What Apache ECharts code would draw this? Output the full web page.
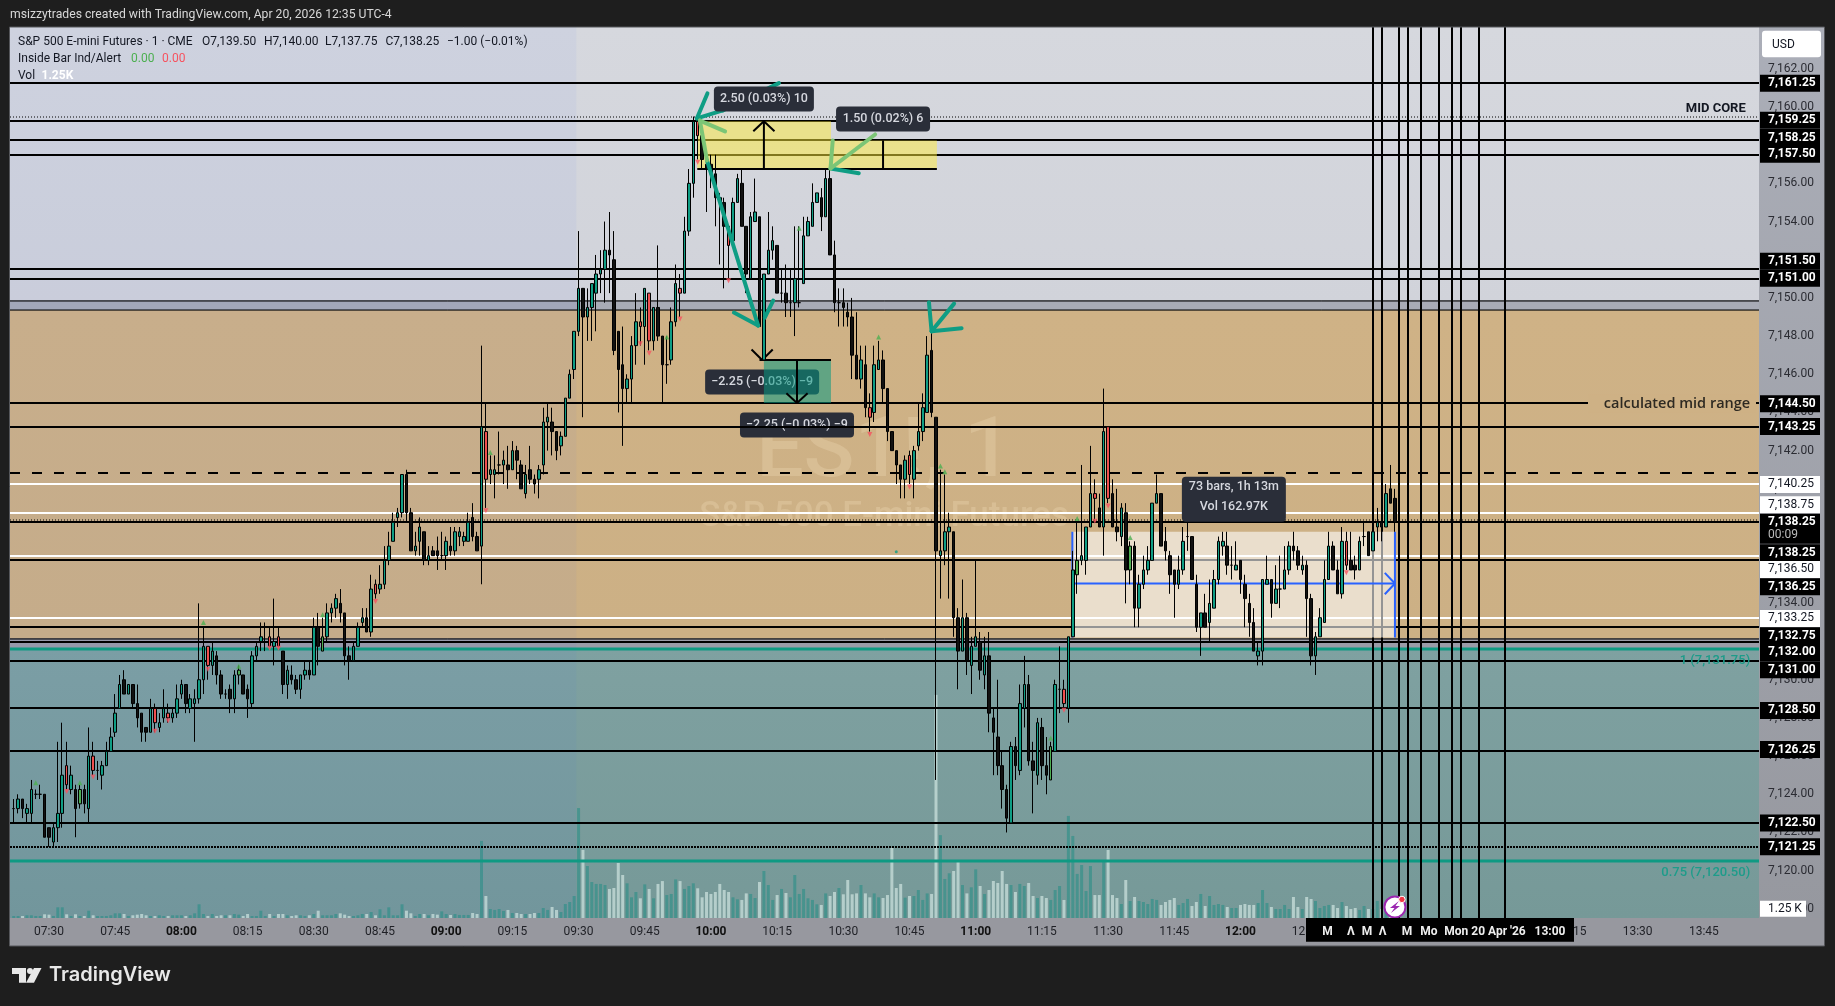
<!DOCTYPE html>
<html><head><meta charset="utf-8">
<style>html,body{margin:0;padding:0;background:#1e1e1e}#c{width:1835px;height:1006px}</style>
<script src="https://cdn.jsdelivr.net/npm/echarts@6/dist/echarts.min.js"></script>
</head><body><div id="c"></div>
<script>
// ---- price bars, [open, close, low, high], one bar per minute
const bars0730=[[7123.25,7123.25,7122.5,7123.75],[7123.25,7123.75,7123,7124],[7123.75,7123.25,7122.75,7123.75],[7123,7123.25,7122.5,7123.5],[7123,7124.25,7122.5,7124.75],[7124,7124,7123.75,7124.25],[7124,7124,7123.75,7124.5],[7124,7121.75,7121.75,7124],
[7122.25,7121.75,7121.25,7122.25],[7121.5,7122.25,7121.25,7122.5],[7122.25,7123,7121.5,7126.75],[7123,7125,7122.25,7127.75],[7125.5,7124.5,7124.25,7126.75],[7124.25,7125,7124,7125.5],[7124.25,7123.25,7121.75,7124.5],[7123.5,7124.25,7123.25,7124.5],[7124.25,7123.5,7123,7124.5],[7123.25,7126,7122.5,7127.5],
[7126,7125.25,7125,7126.75],[7125.25,7125.25,7124.75,7125.75],[7125,7125.5,7124.25,7125.75],[7125.5,7126.25,7125.5,7126.75],[7126.25,7127,7126.25,7127.5],[7127.25,7128.25,7127,7129.25],[7128.5,7129.75,7128.5,7130.25],[7130,7129.25,7129.25,7130.5],[7129.25,7129.75,7129.25,7129.75],[7129.75,7128.75,7128.5,7129.75],
[7128.75,7128,7127.5,7129.75],[7128.25,7127.25,7126.75,7128.25],[7127.5,7127.25,7126.75,7127.5],[7127.25,7128.5,7127.25,7129],[7128.5,7127.75,7127.25,7128.75],[7127.5,7127.75,7127.25,7128.25],[7128,7128.5,7127.75,7129.5],[7128.25,7128,7127.75,7128.75],[7128,7128.25,7127.75,7128.5],[7128.25,7129,7128,7129.75]];
const bars0800=[[7129.25,7129.75,7129,7130],[7129.75,7128.75,7128.25,7129.75],[7128.5,7129,7128.25,7129.25],[7128.75,7129,7126.75,7129.5],[7129,7130,7128.75,7134],[7130,7131.75,7129.25,7132.75],[7131.75,7130.75,7130,7131.75],[7130.75,7131.5,7130.25,7132],[7131.25,7130.25,7129.75,7131.5],[7130.25,7129.25,7129,7130.5],
[7129.25,7129.25,7129,7129.5],[7129.5,7129,7128.25,7129.75],[7129,7130.25,7128.25,7130.5],[7130.25,7130.5,7129.75,7130.75],[7130.25,7129.25,7129.25,7130.25],[7129.5,7129,7128,7129.75],[7128.75,7131.25,7128.5,7131.5],[7131.25,7131.75,7131,7132],[7132,7132.25,7131.5,7133],[7132,7132,7131.5,7133],
[7132.25,7131.75,7131.75,7132.75],[7131.75,7132,7130.75,7134.25],[7132.25,7131.75,7131.75,7132.75],[7131.5,7129.75,7129.25,7131.5],[7129.75,7130.5,7129,7130.75],[7130.25,7130,7129.75,7130.75],[7130,7129.5,7129.25,7130.25],[7129.5,7130.25,7129,7130.25],[7130.25,7130.5,7130,7131],[7130.5,7130.25,7130,7131],
[7130.25,7132.75,7130.25,7133.25],[7132.75,7131.75,7130.75,7133.5],[7131.5,7132.25,7131.5,7133.25],[7132.25,7133.5,7132,7134],[7133.5,7133.75,7133,7134],[7133.75,7134.25,7133.25,7134.5],[7134,7133.5,7133,7134.75],[7133.5,7131.25,7130.75,7133.5],[7131.25,7131,7130,7131.75],[7131,7131.75,7131,7132],
[7131.75,7132.75,7131.75,7133],[7133,7133.25,7132.75,7133.75],[7133.25,7132.5,7132.5,7133.75],[7132.5,7134.75,7132.25,7135.5],[7135,7134.5,7134.25,7135.25],[7134.75,7135,7134.5,7136],[7135,7136.25,7134.75,7137],[7136.25,7137,7136,7137.75],[7137.25,7138.25,7137.25,7138.75],[7138.5,7138.75,7138,7139],
[7138.75,7140.75,7138.5,7140.75],[7140.75,7138.75,7138.25,7141],[7138.75,7136.75,7136.75,7139],[7136.75,7137,7136.5,7137.75],[7137.25,7138,7136.5,7138.5],[7137.75,7136.25,7136,7137.75],[7136.25,7136.5,7136,7137],[7136.75,7136.5,7136.5,7137],[7136.75,7136.5,7135.75,7137.5],[7136.5,7136.5,7136.25,7137.75]];
const bars0900=[[7136.5,7137.25,7135.75,7137.5],[7137,7136.75,7136.5,7138],[7136.75,7137.75,7136.5,7138],[7137.5,7137.75,7137,7138],[7137.25,7137.5,7137,7137.75],[7137.25,7138.25,7137.25,7138.75],[7138.5,7137.5,7137.25,7139.25],[7137.5,7136.75,7136.75,7137.75],[7137,7143.25,7135,7147.5],[7143,7140.5,7139,7144.5],
[7140.75,7141,7140.25,7141.75],[7140.75,7141,7139.5,7141.75],[7141.25,7141.25,7140.75,7143],[7141.25,7141.5,7140.25,7142],[7141.25,7141,7140,7142.25],[7141,7142,7141,7142.5],[7142,7141.5,7140.5,7142.25],[7141.25,7140,7140,7141.5],[7139.75,7140.75,7139.5,7141.25],[7141,7140.5,7140.25,7142.25],
[7140.5,7140.25,7139.75,7140.75],[7140.5,7141,7139.5,7141.25],[7141.25,7143.5,7140.75,7144.25],[7143.5,7143.75,7142,7144.5],[7143.5,7143,7141.75,7144.25],[7143,7142,7141.5,7143],[7142.25,7142.75,7141.75,7143],[7142.75,7144.75,7142.75,7144.75],[7144.75,7146,7144.75,7146.25],[7146.25,7148.25,7145.75,7148.25],
[7148.25,7150.5,7148,7153.5],[7150.5,7149,7143.75,7150.5],[7149,7149.5,7147.75,7150.5],[7149.5,7150.75,7147.75,7150.75],[7150.25,7151.25,7148.25,7152.25],[7151.25,7151.5,7150.25,7152.5],[7151.5,7152.5,7149.75,7154],[7152.5,7152.25,7150.25,7154.5],[7152,7147.25,7147,7153.5],[7148.25,7146.25,7144,7148.25],
[7146.5,7145.25,7142.25,7148.5],[7145.25,7145.75,7144.5,7146],[7145.75,7147.5,7144.5,7148],[7147.5,7148.75,7146.5,7150.25],[7148.75,7148.5,7147.5,7149.5],[7148.5,7150.5,7146.5,7150.5],[7150.25,7147.75,7147.25,7150.25],[7147.75,7149.5,7147.25,7149.5],[7149.5,7148,7147.75,7152.75],[7148,7146.5,7144.5,7148],
[7146.5,7146.5,7145.5,7148],[7146.75,7148.75,7146.5,7149.5],[7148.75,7150.75,7148.5,7151.75],[7150.5,7150.25,7149,7151.25],[7150.25,7153.5,7150.25,7154.25],[7153.5,7156,7153.25,7156.75],[7156,7159.25,7155.25,7159.5],[7159.25,7158.5,7157.25,7159.5],[7158.5,7157.25,7156.75,7159.25],[7157,7156.75,7154.5,7157.5]];
const bars1000=[[7157,7156.5,7155.75,7157.5],[7156.5,7155.25,7153.75,7157.5],[7155.25,7155,7151.75,7155.5],[7155,7153.75,7150.5,7155.25],[7153.75,7152.75,7151,7153.75],[7153,7155,7152.75,7155.25],[7155,7156.25,7155,7156.5],[7156,7153.75,7153.75,7156.75],[7153.75,7151.25,7150.25,7153.75],[7151,7154.25,7151,7154.5],
[7154,7154.5,7154,7156.25],[7154.25,7148.5,7148.5,7154.25],[7146.75,7151.25,7146.75,7151.25],[7151.25,7152.5,7151.25,7154.5],[7152.5,7153,7152,7153.75],[7152.75,7150.25,7150.25,7152.75],[7150.25,7150.25,7149.75,7151.5],[7150.25,7149.75,7149,7151.75],[7149.75,7149.75,7149,7151.5],[7149.75,7151,7148,7153.75],
[7149.75,7149.75,7149.5,7153.75],[7150.75,7153.25,7150.75,7154.25],[7153.25,7154,7153.25,7154.25],[7153.75,7155,7153.75,7156],[7155,7155.5,7155,7155.5],[7155.25,7154.25,7153.5,7155.75],[7154.25,7156.25,7154.25,7156.75],[7156.25,7152.25,7152.25,7156.75],[7152.25,7149.75,7149.25,7153],[7149.75,7149.75,7148.5,7150.5],
[7149.75,7149.5,7148.5,7150.5],[7149.25,7149,7148.5,7149.75],[7149,7147,7145.75,7150],[7147,7145.75,7145.75,7149.25],[7145.75,7146.75,7145.25,7147.5],[7146.5,7144.25,7143.75,7147.5],[7144.25,7143.75,7143,7145],[7144,7146.5,7143.5,7147.5],[7146.25,7146.75,7146.25,7147.75],[7146.75,7145.25,7144.5,7147.25],
[7145.25,7143,7142.5,7145.25],[7143,7142,7142,7143],[7142,7141.25,7140.25,7142],[7141.25,7140.5,7139.5,7141.25],[7140.5,7141.5,7139.5,7141.75],[7141.75,7140.75,7140.25,7142],[7140.5,7142,7139.5,7142.25],[7142.25,7143,7142,7144.5],[7143,7144.25,7142.5,7145],[7144,7147,7144,7148],
[7147.25,7144,7143.75,7148.25],[7143.75,7136.75,7124.75,7143.75],[7136.5,7136.75,7134.25,7141],[7136.75,7137.75,7136,7140.75],[7137.75,7138,7134.25,7138.75],[7137.75,7133.25,7132.25,7137.75],[7133.25,7131.5,7129.5,7133.75],[7131.5,7133.25,7131.5,7135.25],[7133.25,7131,7130.25,7133.5],[7130.75,7131.75,7129.25,7132.25]];
const bars1100=[[7131.75,7132.25,7131.75,7136.25],[7132,7130.5,7130,7132.5],[7130.25,7131.25,7129.5,7132.25],[7131.25,7128.25,7127.25,7132.5],[7128,7127.25,7125,7128.5],[7127,7125.5,7125,7130],[7125.5,7124.25,7123.25,7126.25],[7124.25,7122.75,7122,7124.5],[7122.5,7126.5,7122.5,7126.75],[7126.5,7125.5,7124.75,7127],
[7125.25,7128.75,7125,7129.75],[7128.5,7129.75,7127.5,7131.25],[7129.75,7125.75,7125.5,7130.25],[7125.75,7125.25,7123,7126.75],[7125,7127.75,7124.5,7128],[7127.5,7125.5,7124.75,7128],[7125.5,7125,7124,7127],[7124.75,7126.5,7124.75,7126.75],[7126.25,7129.75,7126.25,7130],[7129.5,7129.5,7128.25,7131.75],
[7129.5,7128.75,7128.5,7130],[7128.5,7132.25,7127.75,7132.25],[7132.25,7135.75,7132.25,7136.75],[7135.5,7136.25,7134.5,7138.25],[7136.25,7136.5,7136,7141.25],[7136.25,7138,7135.5,7138],[7138,7139.75,7138,7142.25],[7139.75,7139.5,7138.25,7140.5],[7139,7138,7138,7139.75],[7138,7143,7136.5,7145.25],
[7143.25,7139.5,7139.25,7143.25],[7139.75,7138,7138,7140.5],[7138,7137.75,7137.25,7140],[7137.5,7139,7137,7139.25],[7138.75,7135.75,7134,7139.25],[7135.75,7137,7135,7137.25],[7137,7133.75,7132.75,7137.25],[7133.75,7135,7132.75,7135.5],[7135,7135.75,7134.75,7136.5],[7135.75,7136.25,7135.5,7137],
[7136.25,7139.25,7136.25,7139.25],[7139.25,7139.75,7139.25,7140.75],[7139.75,7137,7137,7139.75],[7137.25,7136.75,7136.25,7138],[7136.5,7135.5,7134.5,7136.75],[7135.75,7135,7133.25,7135.75],[7135,7135.75,7134.75,7136.5],[7135.75,7137.25,7135.5,7138],[7137.5,7137.5,7136.75,7139],[7137.5,7135.25,7135.25,7137.5],
[7135,7132.75,7132.5,7135.5],[7132.75,7133.5,7131.25,7133.5],[7133.5,7132.75,7132.75,7134.5],[7133,7134,7132,7135.25],[7133.75,7135.25,7133.75,7135.75],[7135.25,7137.25,7135,7137.5],[7137,7137.25,7136.5,7137.75],[7137,7136,7135.5,7137.75],[7136,7136,7135.25,7137],[7135.75,7136,7135.75,7137.25]];
const bars1200=[[7136.25,7135.25,7134.5,7136.25],[7135,7134.25,7132.75,7135.5],[7134,7133,7132.25,7134.5],[7133,7131.5,7131.5,7133.75],[7131.25,7131.5,7130.75,7132],[7131.5,7135.25,7130.75,7135.25],[7135,7135.25,7135,7136.5],[7135.25,7134,7133.25,7135.25],[7134,7134.75,7134,7136],[7134.75,7134.75,7133.75,7136.5],
[7134.75,7135.75,7134.75,7137],[7135.75,7137,7135.5,7137.25],[7137,7136.75,7136.25,7137.75],[7136.75,7136,7135.75,7137],[7135.75,7136,7135.5,7136.5],[7136,7134.25,7132.25,7136.25],[7134.25,7131.25,7130.75,7134.5],[7131.25,7132.25,7130.25,7132.5],[7132.25,7133.25,7132.25,7133.75],[7133,7135.25,7133,7136.25],
[7135.25,7137,7135.25,7137.75],[7137,7135.75,7135.75,7137.25],[7135.75,7134.5,7134.5,7136.25],[7134.5,7137.25,7134.25,7138],[7137.25,7136,7135.75,7137.75],[7136.25,7135.75,7135.75,7137.75],[7136,7135.75,7135.25,7136.5],[7135.75,7137.25,7135.75,7137.5],[7137.5,7137.5,7137,7138.25],[7137.75,7136.5,7136.5,7137.75],
[7136.75,7137.75,7136.75,7138.25],[7138,7138.25,7137.25,7139],[7138.25,7138,7137.25,7139.25],[7138,7139.75,7138,7140.25],[7140,7139.25,7139.25,7141.25],[7139.5,7138.25,7137.75,7140]];
// ---- volume per bar, thousands
const vol0730=[.24,.24,.24,.33,.33,.24,.24,.45,.41,.24,1.3,1.3,.45,.24,.45,.24,.24,.89,.33,.24,.24,.24,.33,.57,.57,.49,.24,.33,.41,.49,.33,.24,.24,.33,.24,.24,.33,.33];
const vol0800=[.33,.24,.33,.57,1.67,.49,.24,.49,.24,.33,.33,.33,.49,.41,.24,.49,.24,.24,.89,.24,.49,.24,.49,.49,.33,.24,.33,.33,.24,.33,.49,.89,.33,.33,.33,.49,.57,.41,.24,.24,.33,.49,.49,.73,.33,1.06,.33,1.3,.33,.33,1.67,.89,.57,.24,.49,.49,.33,.49,.41,.81];
const vol0900=[.49,.37,.49,.37,.37,.37,.61,.49,9.4,2.68,1.1,.98,1.1,.85,.98,.61,.61,.49,.49,.49,.61,.61,1.22,.98,1.34,.98,.73,1.71,1.95,2.68,13.4,8.3,6.34,4.39,4.15,4.15,4.02,3.54,3.66,6.71,5.24,4.23,2.52,3.17,2.4,4.1,3.54,2.4,4.15,4.5,2.8,2.93,4.7,4.5,3.54,3.9,4.23,3.62,2.52,3.17];
const vol1000=[2.93,3.17,4.15,3.41,3.17,2.52,2.28,2.2,3,2.93,2.44,4.39,5.73,4.02,2.2,2.8,3.54,3.05,2.52,5.24,2.93,3.54,2.4,2.2,1.67,1.59,3,2.68,3.17,3.66,2.89,4.63,2.89,3,4.02,3,2.52,3,2.52,2.44,2.8,8.54,3.66,4.15,2.48,2.68,2.68,3.41,2.2,3,2.93,27.2,10.1,4.76,5.45,5.73,6.83,4.02,3,3.74];
const vol1100=[5.93,3.9,2.93,3.41,4.51,4.27,5.73,4.15,4.02,3.17,4.15,3.9,4.27,2.68,2.44,2.68,2.44,2.2,3.41,3.9,2.2,12.44,10,5.37,6.46,3.29,6.34,2.8,2.8,6.87,8.29,2.8,2.44,1.71,4.63,2.07,2.56,2.07,1.95,1.71,2.32,2.2,1.59,1.95,2.2,2.44,1.59,1.83,2.32,1.46,1.95,2.93,1.46,2.68,1.59,1.71,1.59,1.34,1.22,1.22];
const vol1200=[1.59,1.71,1.59,1.59,1.83,3.41,1.83,1.34,1.1,1.1,1.59,1.1,2.56,1.34,1.1,2.56,2.32,2.07,1.22,1.46,1.59,1.59,1.22,1.95,1.46,1.1,1.22,.98,1.46,1.1,1.1,2.07,1.1,1.8,1.6,1.25];
const firstBarMinute=-8; // minutes after 07:30
const redBars=[4,10,24,27,36,50,52,74,99,134,136,143,147,154,186,195,230,237,240,294];
const greenBars=[7,43,62,227,233,245];
// ---- inside bar markers [minute, price]
const upMarks=[[-3,7124.6],[7,7124.6],[35,7133],[43,7130.7],[62,7133.4],[100,7141.9],[140,7147.95],[170,7153.65],[188,7147.95],[202,7141.2],[203,7140.9],[227,7126.95],[233,7138.45],[245,7137.45]];
const downMarks=[[4,7124.15],[10,7124.9],[24,7127.3],[27,7127.85],[36,7130.55],[50,7131.65],[52,7131.65],[74,7134.1],[99,7138.85],[134,7147.6],[136,7147.1],[143,7148.9],[147,7157.1],[154,7150.9],[186,7142.85],[195,7140.1],[230,7128.4],[237,7138.3],[240,7139.1],[294,7135.6]];
const dotMarks=[[192,7136.7]];
// ---- horizontal levels
const levelsThick=[7161.25,7159.25,7158.25,7157.5,7151.5,7151,7144.5,7143.25,7138.25,7136.25,7132.75,7132,7131,7128.5,7126.25,7122.5];
const levelsThin=[7149.86,7149.36,7132.16];
const levelsDotted=[7159.49,7138.37];
const levelsDense=[7121.25];
const levelsWhite=[7140.25,7138.75,7136.5,7133.25];
const levelsFib=[7131.6,7120.5];
const levelDashed=[7140.81];
const verticalMinutes=[300,302,306,308,311,315,318,320,324,330];
// ---- axis
const priceMin=7117.52, priceMax=7164.19, minuteMin=-8.84, minuteMax=387.5, volMax=108.6;
const priceTicks=[7118,7120,7122,7124,7126,7128,7130,7132,7134,7136,7138,7140,7142,7144,7146,7148,7150,7152,7154,7156,7158,7160,7162];
const timeTicks=[0,15,30,45,60,75,90,105,120,135,150,165,180,195,210,225,240,255,270,285,300,315,330,345,360,375];
// ---- price tags
const tagLabels=['7,161.25','7,159.25','7,158.25','7,157.50','7,151.50','7,151.00','7,144.50','7,143.25','7,140.25','7,138.75','7,138.25','7,136.50','7,136.25','7,133.25','7,132.75','7,132.00','7,131.00','7,128.50','7,126.25','7,122.50','7,121.25'];
const tagPrices=[7161.25,7159.31,7158.4,7157.53,7151.92,7151.03,7144.46,7143.26,7140.23,7139.17,7136.65,7135.78,7134.87,7133.21,7132.3,7131.43,7130.52,7128.39,7126.34,7122.5,7121.25];
const tagWhite=['7,140.25','7,138.75','7,136.50','7,133.25'];
// ---- drawing tools
const yellowRects=[[146.9,7159.25,177.2,7156.75],[177.2,7158.25,201.2,7156.75]];
const greenRect=[[162,7146.75,177.2,7144.5]];
const rangeRect=[[231.9,7137.75,305,7132.21]];
const toolLines=[[146.9,7156.75,201.2,7156.75],[162,7156.75,162,7159.25],[159.6,7158.73,162,7159.25],[164.4,7158.73,162,7159.25],[189,7158.25,189,7156.75],
 [161,7146.75,177.2,7146.75],[159.2,7147.3,161.6,7146.75],[164,7147.3,161.6,7146.75],[169.5,7146.75,169.5,7144.5],[167.1,7145,169.5,7144.5],[171.9,7145,169.5,7144.5]];
const rangeLines=[[231.9,7137.75,231.9,7132.21],[305,7137.75,305,7132.21],[232.3,7135.04,305,7135.04],[302.7,7135.6,305,7135.04],[302.7,7134.48,305,7135.04]];
const tealStrokes=[[149.2,7160.71,146.8,7159.4],[146.8,7159.4,152.7,7159.82],[152.7,7159.82,165.4,7161.25],[149.1,7157.2,160.7,7148.55],[155.2,7149.23,160.7,7148.55],[164.1,7149.86,162.2,7148.97],[177.1,7156.78,183.5,7156.53],[199.4,7149.77,200,7148.25],[205.1,7149.7,200,7148.25],[206.8,7148.41,200,7148.25]];
const limeStrokes=[[147.5,7159.29,153.2,7158.72],[147.5,7159.29,149.1,7157.2],[187.2,7158.56,177.1,7156.78],[177.6,7158.25,177.1,7156.78]];
const toolLabelsTop=[['2.50 (0.03%) 10',162,7160.42,100],['1.50 (0.02%) 6',189,7159.37,94]];
const toolLabelsLow=[['\u22122.25 (\u22120.03%) \u22129',161.6,7145.59,114],['\u22122.25 (\u22120.03%) \u22129',169.5,7143.34,114]];
const rangeLabel=['73 bars, 1h 13m','Vol 162.97K',268.5,7139.46];

// ---- assemble
const allBars=[...bars0730,...bars0800,...bars0900,...bars1000,...bars1100,...bars1200];
const allVol=[...vol0730,...vol0800,...vol0900,...vol1000,...vol1100,...vol1200];
const UP='#0f9d84',DN='#111111',FONT='Roboto, "Open Sans", sans-serif';
const candleData=allBars.map((b,i)=>{
  const t=firstBarMinute+i;
  const sp=redBars.includes(t)?'#f0504f':greenBars.includes(t)?'#4caf50':null;
  const item={value:[t,...b]};
  if(sp) item.itemStyle={color:sp,color0:sp};
  return item;
});
const volData=allVol.map((v,i)=>{
  const b=allBars[i];
  return {value:[firstBarMinute+i,v],itemStyle:{color:b[1]>=b[0]?'rgba(20,140,130,.48)':'rgba(225,245,240,.58)'}};
});
const chart=echarts.init(document.getElementById('c'),null,{width:1835,height:1006,renderer:'canvas'});
function layer(z,rows,draw){
  return {type:'custom',coordinateSystem:'cartesian2d',xAxisIndex:0,yAxisIndex:0,z,silent:true,clip:false,animation:false,
    data:rows.map(()=>[0,7140]),renderItem:(p,api)=>draw(rows[p.dataIndex],(t,v)=>api.coord([t,v]))};
}
const lg=(a,b)=>({type:'linear',x:0,y:0,x2:0,y2:1,colorStops:[{offset:0,color:a},{offset:1,color:b}]});
const rectOf=(c,r,fill)=>{const a=c(r[0],r[1]),b=c(r[2],r[3]);return {type:'rect',shape:{x:Math.min(a[0],b[0]),y:Math.min(a[1],b[1]),width:Math.abs(b[0]-a[0]),height:Math.abs(b[1]-a[1])},style:{fill}};};
const segOf=(c,r,stroke,w,cap)=>{const a=c(r[0],r[1]),b=c(r[2],r[3]);return {type:'line',shape:{x1:a[0],y1:a[1],x2:b[0],y2:b[1]},style:{stroke,lineWidth:w,lineCap:cap||'butt'}};};
const hline=(stroke,w,dash)=>(p,c)=>{const y=Math.round(c(0,p)[1]);const o={type:'line',shape:{x1:c(minuteMin,p)[0],y1:y,x2:c(minuteMax,p)[0],y2:y},style:{stroke,lineWidth:w,lineDash:dash||null}};return o;};
const zones=[[minuteMin,priceMax,minuteMax,7149.86,lg('#d6d8de','#d1d3da')],[minuteMin,7149.86,minuteMax,7149.36,'#a8abb6'],[minuteMin,7149.36,minuteMax,7132.16,lg('#cfb286','#ccb085')],[minuteMin,7132.16,minuteMax,7131.6,'#9a9ca8'],[minuteMin,7131.6,minuteMax,priceMin,lg('#7fa1a1','#769998')]];
const txt=(text,x,y,fill,font,align)=>({type:'text',style:{text,x,y,fill,font,align:align||'center',verticalAlign:'middle'}});
const toolBox=(r,c)=>{const p=c(r[1],r[2]);const w=r[3],h=25;return {type:'group',children:[
  {type:'rect',shape:{x:p[0]-w/2,y:p[1]-h/2,width:w,height:h,r:4},style:{fill:'#2a2e39'}},
  txt(r[0],p[0],p[1],'#d6d8df','500 12.5px '+FONT)]};};
const series=[
  layer(1,zones,(r,c)=>rectOf(c,r,r[4])),
  layer(1,[[minuteMin,7119.0]],(r,c)=>rectOf(c,[minuteMin,priceMax,119.5,priceMin],'rgba(41,98,255,.045)')),
  layer(1.5,[['ES1!, 1',7141.75,'500 84px '],['S&P 500 E-mini Futures',7138.5,'500 35px ']],(r,c)=>{const p=c(0,r[1]);return txt(r[0],884,p[1],'rgba(255,238,205,.22)',r[2]+FONT);}),
  {type:'bar',xAxisIndex:0,yAxisIndex:1,z:2,silent:true,animation:false,barWidth:3,data:volData},
  layer(2.5,[toolLabelsLow[1]],toolBox),
  layer(3,levelsThick,hline('#000',2)),
  layer(3,levelsThin,hline('#000',1)),
  layer(3,levelsDotted,hline('#000',1,[1,2])),
  layer(3,levelsDense,hline('#000',2,[2,1])),
  layer(3,levelsWhite,hline('#fff',2)),
  layer(3,levelsFib,hline('#0f9a83',3)),
  layer(3,levelDashed,(p,c)=>{const y=Math.round(c(0,p)[1]);return {type:'line',shape:{x1:10,y1:y,x2:1758,y2:y},style:{stroke:'#000',lineWidth:2,lineDash:[10,12]}};}),
  layer(3,verticalMinutes,(t,c)=>{const x=Math.round(c(t,0)[0]);return {type:'line',shape:{x1:x,y1:c(t,priceMax)[1],x2:x,y2:c(t,priceMin)[1]},style:{stroke:'#000',lineWidth:2}};}),
  layer(3.5,[toolLabelsLow[0]],toolBox),
  layer(4,yellowRects,(r,c)=>rectOf(c,r,'rgba(255,235,59,.5)')),
  layer(4,greenRect,(r,c)=>rectOf(c,r,'rgba(8,153,129,.55)')),
  layer(4,rangeRect,(r,c)=>rectOf(c,r,'rgba(255,255,255,.58)')),
  layer(4.2,toolLines,(r,c)=>segOf(c,r,'#000',2)),
  layer(4.2,rangeLines,(r,c)=>segOf(c,r,'#2962ff',2)),
  {type:'candlestick',xAxisIndex:0,yAxisIndex:0,z:5,silent:true,animation:false,progressive:0,barWidth:3,
   itemStyle:{color:UP,color0:DN,borderColor:'#000',borderColor0:'#000',borderWidth:1},data:candleData},
  {type:'scatter',xAxisIndex:0,yAxisIndex:0,z:5,silent:true,animation:false,symbol:'triangle',symbolSize:5,itemStyle:{color:'#4caf50'},data:upMarks},
  {type:'scatter',xAxisIndex:0,yAxisIndex:0,z:5,silent:true,animation:false,symbol:'triangle',symbolSize:5,symbolRotate:180,itemStyle:{color:'#f7525f'},data:downMarks},
  {type:'scatter',xAxisIndex:0,yAxisIndex:0,z:5,silent:true,animation:false,symbolSize:3,itemStyle:{color:UP},data:dotMarks},
  layer(6,tealStrokes,(r,c)=>segOf(c,r,'#0f9d84',4,'round')),
  layer(6,limeStrokes,(r,c)=>segOf(c,r,'#7cc576',4,'round')),
  layer(7,toolLabelsTop,toolBox),
  layer(7,[rangeLabel],(r,c)=>{const p=c(r[2],r[3]);return {type:'group',children:[
    {type:'rect',shape:{x:p[0]-52,y:p[1]-22.5,width:104,height:45,r:4},style:{fill:'#2a2e39'}},
    txt(r[0],p[0],p[1]-12,'#d6d8df','500 12.5px '+FONT),txt(r[1],p[0],p[1]+8,'#d6d8df','500 12.5px '+FONT)]};}),
  layer(7,[['MID CORE',384.5,7159.92]],(r,c)=>{const p=c(r[1],r[2]);return txt(r[0],p[0],p[1],'#131722','bold 13px '+FONT,'right');}),
  layer(7,[['calculated mid range',385.5,7144.46]],(r,c)=>{const p=c(r[1],r[2]);return {type:'group',children:[
    {type:'rect',shape:{x:1588,y:p[1]-9,width:168,height:18},style:{fill:'#ceb185'}},
    txt(r[0],p[0],p[1],'#2e2a22','600 14.5px "Open Sans", sans-serif','right')]};}),
  layer(7,[['1 (7,131.75)',385.5,7131],['0.75 (7,120.50)',385.5,7119.9]],(r,c)=>{const p=c(r[1],r[2]);return txt(r[0],p[0],p[1],'#1d9c8a','500 13px '+FONT,'right');}),
];
// tags drawn by index so repeated labels stay separate
series.push(layer(8,tagPrices.map((p,i)=>[tagLabels[i],p]),(r,c)=>{
  const y=c(0,r[1])[1],white=tagWhite.includes(r[0]);
  return {type:'group',children:[
    {type:'rect',shape:{x:1760,y:y-8.5,width:60,height:17},style:{fill:white?'#fff':'#000'}},
    txt(r[0],1768,y,white?'#131722':'#fff',(white?'':'bold ')+'12px '+FONT,'left')]};
}));
series.push(layer(8,[['7,138.25','00:09',7137.91]],(r,c)=>{
  const y=c(0,r[2])[1];
  return {type:'group',children:[
    {type:'rect',shape:{x:1760,y:y-15,width:60,height:30},style:{fill:'#000'}},
    txt(r[0],1768,y-7,'#fff','bold 12px '+FONT,'left'),txt(r[1],1768,y+6,'#bbb','12px '+FONT,'left')]};
}));
series.push(layer(8,[['1.25 K',7118.01]],(r,c)=>{
  const y=c(0,r[1])[1];
  return {type:'group',children:[
    {type:'rect',shape:{x:1760,y:y-8,width:46,height:16},style:{fill:'#fff'}},
    txt(r[0],1768,y,'#131722','12px '+FONT,'left')]};
}));
series.push(layer(9,[[305,7118.1]],(r,c)=>{
  const p=c(r[0],r[1]),x=p[0],y=p[1];
  return {type:'group',children:[
    {type:'circle',shape:{cx:x,cy:y,r:10.5},style:{fill:'#fff',stroke:'#9c27b0',lineWidth:2}},
    {type:'polygon',shape:{points:[[x+4,y-6],[x-5,y+1],[x-.5,y+1],[x-4,y+6],[x+5,y-1],[x+.5,y-1]]},style:{fill:'#9c27b0'}},
    {type:'circle',shape:{cx:x+7,cy:y-7.5,r:3.2},style:{fill:'#f23645',stroke:'#fff',lineWidth:1}}]};
}));
const gt=(text,x,y,fill,font,align,z)=>({type:'text',z:z||100,silent:true,style:{text,x,y,fill,font:font||('12px '+FONT),align:align||'left',verticalAlign:'middle'}});
const L='#131722';
const graphics=[
  {type:'rect',z:-1,silent:true,shape:{x:1759,y:27,width:65.5,height:891},style:{fill:lg('#abaeb8','#96989f')}},
  {type:'rect',z:-1,silent:true,shape:{x:10,y:918,width:1814.5,height:28},style:{fill:'#97989f'}},
  {type:'rect',z:99,silent:true,shape:{x:9.5,y:27,width:1815,height:919},style:{fill:'none',stroke:'#55565a',lineWidth:1}},
  gt('msizzytrades created with TradingView.com, Apr 20, 2026 12:35 UTC-4',10,15,'#d8d8d8','12.2px '+FONT),
  gt('S&P 500 E-mini Futures \u00b7 1 \u00b7 CME',18,41.7,L),
  gt('O7,139.50',202,41.7,L),gt('H7,140.00',264,41.7,L),gt('L7,137.75',325,41.7,L),gt('C7,138.25',385.5,41.7,L),gt('\u22121.00 (\u22120.01%)',447,41.7,L),
  gt('Inside Bar Ind/Alert',18,58.7,L),gt('0.00',131,58.7,'#4caf50'),gt('0.00',162,58.7,'#f7525f'),
  gt('Vol',18,75.7,L),gt('1.25K',41.5,75.7,'#fff','bold 12px '+FONT),
  {type:'rect',z:100,silent:true,shape:{x:1762,y:30.7,width:59,height:26.6,r:3},style:{fill:'#fff'}},
  gt('USD',1772,44.5,L,'12px '+FONT,'left',101),
  {type:'rect',z:100,silent:true,shape:{x:1306,y:918,width:268,height:23.7},style:{fill:'#000'}},
  gt('M',1327.6,932,'#eee','bold 12px '+FONT,'center',101),gt('\u039b',1351,932,'#eee','bold 12px '+FONT,'center',101),gt('M',1367,932,'#eee','bold 12px '+FONT,'center',101),gt('\u039b',1382.6,932,'#eee','bold 12px '+FONT,'center',101),gt('M',1407,932,'#eee','bold 12px '+FONT,'center',101),gt('Mo',1429,932,'#eee','bold 12px '+FONT,'center',101),
  gt("Mon 20 Apr '26",1485,932,'#eee','bold 12px '+FONT,'center',101),gt('13:00',1550,932,'#eee','bold 12px '+FONT,'center',101),
  {type:'polygon',z:100,silent:true,shape:{points:[[12,968],[26,968],[26,982.7],[19,982.7],[19,974],[12,974]]},style:{fill:'#e8e8e8'}},
  {type:'circle',z:100,silent:true,shape:{cx:30,cy:971,r:3},style:{fill:'#e8e8e8'}},
  {type:'polygon',z:100,silent:true,shape:{points:[[34,968],[41.5,968],[34,982.7],[26,982.7]]},style:{fill:'#e8e8e8'}},
  gt('TradingView',49,975,'#e8e8e8','600 20px Inter, '+FONT),
];
const fmt=v=>{const m=450+v;return String(Math.floor(m/60)).padStart(2,'0')+':'+String(m%60).padStart(2,'0');};
chart.setOption({
  animation:false,backgroundColor:'#1e1e1e',
  grid:{left:10,right:76,top:27,bottom:88,containLabel:false},
  xAxis:{type:'value',min:minuteMin,max:minuteMax,splitLine:{show:false},axisLine:{show:false},axisTick:{show:false},
    axisLabel:{customValues:timeTicks,margin:8,color:'#1f2026',fontFamily:'Roboto',fontSize:12,hideOverlap:false,
      formatter:v=>{const s=fmt(v);return (450+v)%60===0?'{b|'+s+'}':s;},rich:{b:{fontWeight:'bold',fontFamily:'Roboto',fontSize:12,color:'#111'}}}},
  yAxis:[
    {type:'value',position:'right',min:priceMin,max:priceMax,splitLine:{show:false},axisLine:{show:false},axisTick:{show:false},
     axisLabel:{customValues:priceTicks,margin:9,color:'#2b2c33',fontFamily:'Roboto',fontSize:12,hideOverlap:false,formatter:v=>v.toLocaleString('en-US',{minimumFractionDigits:2})}},
    {type:'value',min:0,max:volMax,show:false}
  ],
  graphic:{elements:graphics},
  series
});
</script></body></html>
